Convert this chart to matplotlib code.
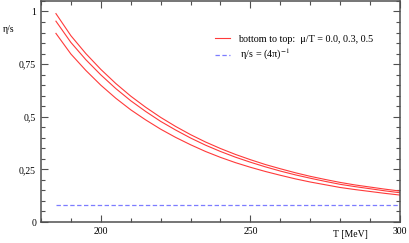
import numpy as np
import matplotlib
matplotlib.use('Agg')
import matplotlib.pyplot as plt
from matplotlib.ticker import MultipleLocator, FuncFormatter

# Data (T in MeV)
T = [185, 190, 195, 200, 205, 210, 215, 220, 225, 230, 235, 240,
     245, 250, 255, 260, 265, 270, 275, 280, 285, 290, 295, 300]
eta_s_mu00 = [0.896, 0.798, 0.720, 0.650, 0.588, 0.533, 0.485, 0.441, 0.402, 0.367, 0.335, 0.307,
              0.282, 0.260, 0.240, 0.222, 0.205, 0.190, 0.177, 0.164, 0.154, 0.145, 0.136, 0.128]
eta_s_mu03 = [0.954, 0.853, 0.771, 0.699, 0.634, 0.576, 0.525, 0.478, 0.437, 0.399, 0.365, 0.335,
              0.308, 0.284, 0.262, 0.242, 0.224, 0.208, 0.193, 0.179, 0.168, 0.158, 0.148, 0.139]
eta_s_mu05 = [0.990, 0.885, 0.800, 0.725, 0.658, 0.598, 0.545, 0.497, 0.454, 0.415, 0.380, 0.349,
              0.321, 0.296, 0.273, 0.253, 0.234, 0.217, 0.202, 0.188, 0.176, 0.166, 0.156, 0.147]
kss_T = [185, 300]
kss_bound = 1 / (4 * np.pi)

plt.rcParams['font.family'] = ['Liberation Serif', 'DejaVu Serif']
plt.rcParams['mathtext.fontset'] = 'stix'

fig = plt.figure(figsize=(4.09, 2.43), dpi=100)
ax = fig.add_axes([0.1002, 0.0864, 0.8778, 0.9096])

line_color = '#ff3a3a'
ax.plot(T, eta_s_mu00, color=line_color, lw=0.8,
        label='bottom to top:  μ/T = 0.0, 0.3, 0.5')
ax.plot(T, eta_s_mu03, color=line_color, lw=0.8)
ax.plot(T, eta_s_mu05, color=line_color, lw=0.8)
ax.plot(kss_T, [kss_bound, kss_bound], color='#7c7cff', lw=0.9,
        linestyle=(0, (3.5, 2)), label=' η/s = (4π)$^{-1}$')

ax.set_xlim(180, 300)
ax.set_ylim(0, 1.05)
ax.xaxis.set_major_locator(MultipleLocator(50))
ax.xaxis.set_minor_locator(MultipleLocator(10))
ax.yaxis.set_major_locator(MultipleLocator(0.25))
ax.yaxis.set_minor_locator(MultipleLocator(0.05))
ax.yaxis.set_major_formatter(FuncFormatter(lambda v, p: ('%g' % v).replace('.', ',')))

frame = '#505050'
for s in ax.spines.values():
    s.set_color(frame)
    s.set_linewidth(1.1)
ax.tick_params(which='both', direction='in', top=True, right=True,
               color=frame, width=0.8, labelsize=7, pad=3.5)
ax.tick_params(which='major', length=5)
ax.tick_params(which='minor', length=2.7)

fig.text(0.008, 0.88, 'η/s', fontsize=7, va='center', ha='left')
fig.text(0.856, 0.037, 'T [MeV]', fontsize=7, va='center', ha='center')

ax.legend(loc='center left', bbox_to_anchor=(0.485, 0.785), frameon=False,
          fontsize=7.3, handlelength=1.5, handletextpad=0.8,
          labelspacing=0.35, borderpad=0, borderaxespad=0)

fig.savefig('out.png', dpi=100)
